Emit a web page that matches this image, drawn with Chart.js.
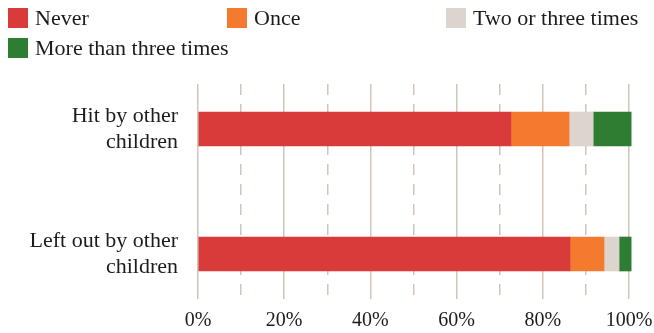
<!DOCTYPE html>
<html>
<head>
<meta charset="utf-8">
<script src="https://cdn.jsdelivr.net/npm/chart.js@4/dist/chart.umd.min.js"></script>
<style>
  html, body { margin: 0; padding: 0; background: #fff; }
  #wrap { position: relative; width: 654px; height: 333px; }
  #legend {
    position: absolute; left: 8px; top: 8px;
    display: grid; grid-template-columns: 219px 219px 219px;
    grid-auto-rows: 30px;
    font-family: "Liberation Serif", serif; font-size: 22px; color: #1c1c1c;
  }
  #legend .item { display: flex; align-items: flex-start; height: 30px; white-space: nowrap; }
  #legend .box { width: 20px; height: 20px; margin-right: 7px; flex: none; }
  #legend .lbl { line-height: 20px; }
</style>
</head>
<body>
<div id="wrap">
  <canvas id="bullyChart" width="654" height="333"></canvas>
  <div id="legend"></div>
</div>
<script>
// ===== Bullying frequency, share of children =====

const categories = [['Hit by other', 'children'], ['Left out by other', 'children']];
const seriesNames = ['Never', 'Once', 'Two or three times', 'More than three times'];
const seriesColors = ['#d93b3a', '#f37a2f', '#dcd5cd', '#2e7d32'];

// Percent per category (hit, left out)
const never = [72.6, 86.3];
const once = [13.5, 7.9];
const twoOrThree = [5.6, 3.5];
const moreThanThree = [8.8, 2.8];

const xTicks = [0, 10, 20, 30, 40, 50, 60, 70, 80, 90, 100];

const seriesValues = [never, once, twoOrThree, moreThanThree];

const datasets = seriesNames.map((name, s) => ({
  label: name,
  data: seriesValues[s].map((v, i) => ({ x: v, y: i })),
  backgroundColor: seriesColors[s],
  borderWidth: 0,
  barThickness: 34,
  clip: false
}));

const ctx = document.getElementById('bullyChart').getContext('2d');

const chart = new Chart(ctx, {
  type: 'bar',
  data: { datasets },
  options: {
    indexAxis: 'y',
    responsive: false,
    animation: false,
    layout: { padding: { top: 84, right: 25, bottom: 0, left: 0 } },
    plugins: {
      legend: { display: false },
      tooltip: { enabled: false }
    },
    scales: {
      x: {
        type: 'linear',
        stacked: true,
        min: 0,
        max: 100,
        afterBuildTicks: scale => { scale.ticks = xTicks.map(v => ({ value: v })); },
        afterFit: scale => { scale.height = 34; scale.paddingRight = 0; scale.paddingLeft = 0; },
        ticks: {
          autoSkip: false,
          maxRotation: 0,
          padding: 10,
          color: '#1c1c1c',
          font: { family: 'Liberation Serif', size: 20 },
          callback: v => (v % 20 === 0 ? v + '%' : '')
        },
        grid: {
          drawTicks: false,
          color: '#cfc5b8',
          lineWidth: 1.5
        },
        border: {
          display: false,
          // dashed minor lines at the odd tens
          dash: c => (c.tick && c.tick.value % 20 !== 0 ? [11, 9] : [])
        }
      },
      y: {
        type: 'linear',
        stacked: true,
        reverse: true,
        offset: false,
        min: -0.36,
        max: 1.36,
        afterBuildTicks: scale => { scale.ticks = categories.map((_, i) => ({ value: i })); },
        afterFit: scale => { scale.width = 198; scale.paddingTop = 0; scale.paddingBottom = 0; },
        ticks: {
          padding: 20,
          color: '#1c1c1c',
          font: { family: 'Liberation Serif', size: 22, lineHeight: 1.2 },
          callback: v => categories[v]
        },
        grid: { display: false, drawTicks: false, offset: false },
        border: { display: false }
      }
    }
  }
});

// HTML legend in three fixed columns
const legendEl = document.getElementById('legend');
chart.data.datasets.forEach(ds => {
  const item = document.createElement('div');
  item.className = 'item';
  const box = document.createElement('span');
  box.className = 'box';
  box.style.background = ds.backgroundColor;
  const lbl = document.createElement('span');
  lbl.className = 'lbl';
  lbl.textContent = ds.label;
  item.appendChild(box);
  item.appendChild(lbl);
  legendEl.appendChild(item);
});
</script>
</body>
</html>
